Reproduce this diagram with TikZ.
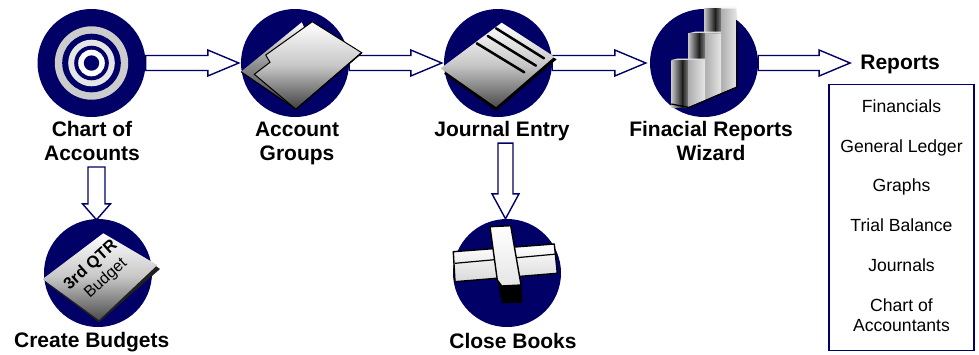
\documentclass[tikz,border=0pt]{standalone}
\usepackage{fontspec}
\setmainfont{Liberation Sans}
\usetikzlibrary{calc}
\definecolor{navy}{HTML}{000066}
\newcommand{\lh}{\vphantom{Agf}}
\tikzset{
  disc/.style={circle,fill=navy,draw=none,minimum size=108pt,inner sep=0pt},
  lab/.style={font=\fontsize{21}{24}\selectfont\bfseries,align=center,inner sep=0pt,text=black},
  listtext/.style={font=\fontsize{17.6}{20}\selectfont,align=center,inner sep=0pt},
  blockline/.style={draw=navy,line width=1.4pt,fill=white,line join=miter},
  rblock/.style={to path={let \p1=(\tikztostart),\p2=(\tikztotarget) in
     (\x1,\y1+7.5pt) -- (\x2-31pt,\y1+7.5pt) -- (\x2-31pt,\y1+13pt) -- (\x2,\y1)
     -- (\x2-31pt,\y1-13pt) -- (\x2-31pt,\y1-7.5pt) -- (\x1,\y1-7.5pt) -- cycle}},
  dblock/.style n args={3}{to path={let \p1=(\tikztostart),\p2=(\tikztotarget) in
     (\x2-#1,\y1) -- (\x2+#1,\y1) -- (\x2+#1,\y2+#3) -- (\x2+#2,\y2+#3) -- (\x2,\y2)
     -- (\x2-#2,\y2+#3) -- (\x2-#1,\y2+#3) -- cycle}},
  paper/.style={top color=white,bottom color=black!70,middle color=black!22},
}
\newcommand{\barcol}[5]{% x0, top, bottomleft, bottomright-y, right-end x
  \shade[left color=black!22,right color=black!88] (#1,#2) -- (#1+11,#2) -- (#1+11,#3) -- (#1,#3) -- cycle;
  \shade[left color=black!88,right color=black!50] (#1+11,#2) -- (#1+17,#2) -- (#1+17,#3) -- (#1+11,#3) -- cycle;
  \shade[left color=black!32,right color=black!10] (#1+17,#2) -- (#5,#2) -- (#5,#4) -- (#1+17,#3) -- cycle;
}
\begin{document}
\begin{tikzpicture}[x=1pt,y=-1pt]
\useasboundingbox (0,0) rectangle (979,354);
% discs
\node[disc] (c1) at (91.5,63) {};
\node[disc] (c2) at (295,63) {};
\node[disc] (c3) at (498,63) {};
\node[disc] (c4) at (704,63) {};
\node[disc] (c5) at (98,273) {};
\node[disc] (c6) at (507,273) {};
% labels
\node[lab] (l1) at (92,143.4) {\lh Chart of\\\lh Accounts};
\node[lab] (l2) at (297,143.4) {\lh Account\\\lh Groups};
\node[lab] (l3) at (502,130.75) {\lh Journal Entry};
\node[lab] (l4) at (711,143.4) {\lh Finacial Reports\\\lh Wizard};
\node[lab] (l5) at (91.7,341.75) {\lh Create Budgets};
\node[lab] (l6) at (513,343) {\lh Close Books};
\node[lab] (rep) at (900,64.5) {\lh Reports};
% list box
\node[draw=navy,line width=1.4pt,minimum width=145pt,minimum height=266pt,inner sep=0pt] (box) at (901.5,217.5) {};
\node[listtext] (items) at (901.5,215.5) {Financials\\[19.7pt]General Ledger\\[19.7pt]Graphs\\[19.7pt]Trial Balance\\[19.7pt]Journals\\[19.7pt]Chart of\\Accountants};
% connectors
\draw[blockline] (c1.east) to[rblock] ([xshift=-2pt]c2.west);
\draw[blockline] (c2.east) to[rblock] ([xshift=-2pt]c3.west);
\draw[blockline] (c3.east) to[rblock] ([xshift=-4pt]c4.west);
\draw[blockline] (c4.east) to[rblock] ([xshift=-10pt]rep.west);
\draw[blockline] ([yshift=-1.6pt]l1.south) to[dblock={8.5pt}{14pt}{16pt}] ([xshift=-1.5pt,yshift=-1pt]c5.north);
\draw[blockline] ([yshift=-2.4pt]l3.south) to[dblock={7.5pt}{13.5pt}{25pt}] ([xshift=-1.5pt]c6.north);
% target icon
\fill[black!20] (c1) circle (36.7);
\fill[navy] (c1) circle (29.3);
\fill[black!10] (c1) circle (23.3);
\fill[navy] (c1) circle (17.3);
\fill[white] (c1) circle (13.3);
\fill[navy] (c1) circle (7.7);
% folder icon
\shade[top color=white,bottom color=black!80,middle color=black!45,draw=none]
  (301.7,22.3) -- (241,71.7) -- (296,109.3) -- (320,60) -- cycle;
\draw[line width=1pt,black] (241,71.7) -- (296,109.3);
\shade[top color=white,bottom color=black!75,middle color=black!22,draw=black,line width=1pt]
  (312.3,21.7) -- (361.7,52.7) -- (296,109.3) -- (254.3,74.3) -- (270,62.3) -- (265.7,55) -- cycle;
\draw[line width=1.4pt,black] (361.7,52.7) -- (296,109.3);
% journal icon
\fill[black] (556.7,59.3) -- (496,111) -- (444,73.8) -- (460,60) -- (540,50) -- cycle;
\shade[paper] (501.7,22.7) -- (554.3,56.7) -- (496,107) -- (440.7,68.3) -- cycle;
\draw[black,line width=2.5pt,line cap=round] (496,28.3) -- (544,58.3);
\draw[black,line width=2.5pt,line cap=round] (487.7,36) -- (536,65.7);
\draw[black,line width=2.5pt,line cap=round] (476.7,43.3) -- (524.3,72.3);
% chart icon
\shade[top color=white,bottom color=black!15] (704,7.5) -- (717,4) -- (737,6.7) -- (737,20) -- (721,9) -- cycle;
\barcol{704}{8.5}{93}{87}{736.7}
\shade[top color=black!10,bottom color=black!25] (688,33.3) -- (696,31.5) -- (721,31.5) -- (721,33.3) -- cycle;
\barcol{688}{33.3}{100}{93}{721}
\shade[top color=black!10,bottom color=black!25] (671.3,60) -- (678,58.5) -- (705,58.5) -- (705,60) -- cycle;
\barcol{671.3}{60}{107}{100}{705}
\draw[black,line width=1.3pt] (671.3,104) -- (689,107.5) -- (737,87) -- (737,21);
% budget icon
\fill[black!88] (160,269) -- (99,322.3) -- (46.7,283.3) -- (60,270) -- (140,255) -- cycle;
\shade[paper] (103.3,233.3) -- (157.3,265) -- (99,320) -- (42.7,279) -- cycle;
\node[font=\fontsize{16.5}{20}\selectfont\bfseries,rotate=42,inner sep=0pt] (q) at (90.9,265.3) {3rd QTR};
\node[font=\fontsize{16}{20}\selectfont,rotate=42,inner sep=0pt] (b) at (106,278.3) {Budget};
% cross icon
\fill[black] (497.3,280) -- (501.7,303.3) -- (522.7,302.7) -- (521,280) -- cycle;
\shade[top color=white,bottom color=black!15,draw=black,line width=1.4pt]
  (453.3,251.7) -- (554.3,244) -- (557.3,273.3) -- (455,281.7) -- cycle;
\draw[black,line width=1.2pt] (455,263.3) -- (557,254);
\shade[top color=white,bottom color=black!10,draw=black,line width=1.4pt]
  (490,226.7) -- (510.7,225.7) -- (521,285) -- (501.7,286) -- (497.3,280) -- cycle;
\end{tikzpicture}
\end{document}
